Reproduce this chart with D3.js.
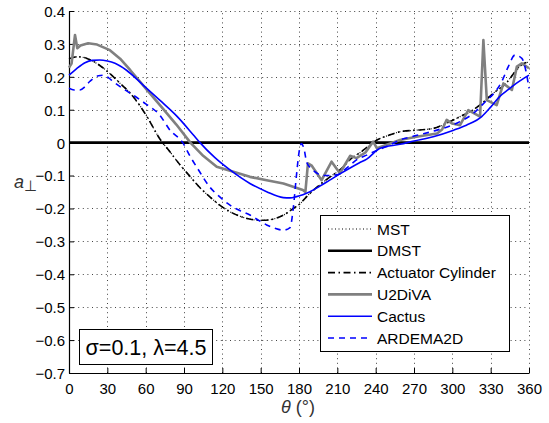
<!DOCTYPE html>
<html>
<head>
<meta charset="utf-8">
<script src="https://cdn.jsdelivr.net/npm/d3@7"></script>
<style>
  html, body { margin: 0; padding: 0; background: #fff; }
  svg { display: block; }
  text { font-family: "Liberation Sans", Arial, sans-serif; }
</style>
</head>
<body>
<svg id="chart" width="549" height="423"></svg>
<script>
// Normal aerodynamic coefficient a⊥ versus azimuth θ for six models
const xTicks = [0, 30, 60, 90, 120, 150, 180, 210, 240, 270, 300, 330, 360];
const yTicks = [-0.7, -0.6, -0.5, -0.4, -0.3, -0.2, -0.1, 0, 0.1, 0.2, 0.3, 0.4];

const mstTheta = [0, 7, 14, 22, 32, 40, 48, 55, 61, 71, 79, 87, 95, 102, 110, 118, 126, 134, 142, 152, 160, 168, 175.5, 181, 186, 196, 204, 212, 222, 228, 234, 241, 250, 259, 272, 285, 295, 306, 316, 324, 332, 342, 349, 354, 360];
const mstVal = [0.255, 0.261, 0.256, 0.24, 0.21, 0.18, 0.15, 0.115, 0.079, 0.012, -0.028, -0.068, -0.104, -0.135, -0.164, -0.19, -0.21, -0.224, -0.233, -0.236, -0.232, -0.22, -0.2, -0.185, -0.164, -0.129, -0.105, -0.083, -0.045, -0.03, -0.012, 0.008, 0.022, 0.033, 0.038, 0.043, 0.058, 0.079, 0.099, 0.122, 0.15, 0.18, 0.215, 0.236, 0.245];

const dmstTheta = [0, 360];
const dmstVal = [0, 0];

const acTheta = [0, 7, 14, 22, 32, 40, 48, 55, 61, 71, 79, 87, 95, 102, 110, 118, 126, 134, 142, 152, 160, 168, 175.5, 181, 186, 196, 204, 212, 222, 228, 234, 241, 250, 259, 272, 285, 295, 306, 316, 324, 332, 342, 349, 354, 360];
const acVal = [0.255, 0.261, 0.256, 0.24, 0.21, 0.18, 0.15, 0.115, 0.079, 0.012, -0.028, -0.068, -0.104, -0.135, -0.164, -0.19, -0.21, -0.224, -0.233, -0.236, -0.232, -0.22, -0.2, -0.185, -0.164, -0.129, -0.105, -0.083, -0.045, -0.03, -0.012, 0.008, 0.022, 0.033, 0.038, 0.043, 0.058, 0.079, 0.099, 0.122, 0.15, 0.18, 0.215, 0.236, 0.245];

const u2dTheta = [0, 2, 4.7, 6.5, 9, 15, 22, 32, 40, 48, 60, 72, 84, 95, 105, 115.6, 128, 141.6, 154.7, 167.8, 183, 185, 187, 190, 197.7, 205.5, 212, 220, 225, 232, 238, 241, 259, 272, 288, 292, 295.6, 300, 306, 312.5, 321.7, 324.3, 327, 334.7, 340, 346.6, 350.5, 354.4, 360];
const u2dVal = [0.228, 0.24, 0.327, 0.287, 0.295, 0.302, 0.298, 0.281, 0.255, 0.22, 0.165, 0.11, 0.055, 0.0, -0.04, -0.073, -0.088, -0.104, -0.114, -0.124, -0.144, -0.15, -0.063, -0.07, -0.114, -0.058, -0.093, -0.04, -0.047, -0.03, 0.003, -0.017, 0.008, 0.018, 0.028, 0.04, 0.069, 0.058, 0.053, 0.099, 0.079, 0.312, 0.129, 0.114, 0.18, 0.16, 0.231, 0.241, 0.226];

const cactusTheta = [0, 6, 12.5, 18, 24, 30, 36, 45, 58, 71, 84, 97, 102.5, 114, 126, 141.6, 154.7, 167.7, 173, 178, 183, 188.6, 196, 204, 212, 220, 227, 233, 243.5, 259, 270, 285, 301, 311, 323, 330, 337, 344, 350, 355, 360];
const cactusVal = [0.205, 0.225, 0.243, 0.25, 0.251, 0.248, 0.241, 0.22, 0.175, 0.129, 0.082, 0.025, 0, -0.045, -0.083, -0.124, -0.149, -0.167, -0.168, -0.164, -0.158, -0.149, -0.133, -0.114, -0.095, -0.077, -0.062, -0.05, -0.017, -0.005, 0.005, 0.018, 0.038, 0.053, 0.079, 0.108, 0.14, 0.162, 0.18, 0.193, 0.205];

const ardTheta = [0, 4, 8.6, 12.5, 16, 19, 23, 27, 31, 34.7, 42, 50, 60, 71, 79, 89, 95, 102, 110, 118, 126, 134, 141.6, 148, 154.7, 161, 167.7, 173, 175.5, 178, 180, 182, 184, 186, 190, 195, 200, 209.5, 218, 226, 233, 240, 248.6, 259, 270, 288, 303.4, 316.5, 327, 333, 338.6, 343.8, 349, 354.4, 358, 360];
const ardVal = [0.165, 0.16, 0.16, 0.17, 0.185, 0.195, 0.203, 0.205, 0.197, 0.185, 0.165, 0.145, 0.118, 0.084, 0.038, 0.0, -0.043, -0.087, -0.134, -0.165, -0.19, -0.207, -0.22, -0.235, -0.25, -0.26, -0.266, -0.258, -0.2, -0.1, -0.03, -0.003, -0.02, -0.06, -0.08, -0.095, -0.1, -0.098, -0.075, -0.05, -0.038, -0.025, -0.012, 0.008, 0.02, 0.038, 0.059, 0.089, 0.129, 0.152, 0.185, 0.231, 0.266, 0.256, 0.21, 0.165];

const seriesNames = ["MST", "DMST", "Actuator Cylinder", "U2DiVA", "Cactus", "ARDEMA2D"];

const series = [
  { name: seriesNames[0], t: mstTheta, v: mstVal, color: "#000", width: 1.2, dash: "1,2.5", curve: d3.curveMonotoneX },
  { name: seriesNames[1], t: dmstTheta, v: dmstVal, color: "#000", width: 2.6, dash: null, curve: d3.curveLinear },
  { name: seriesNames[2], t: acTheta, v: acVal, color: "#000", width: 1.6, dash: "7,3.5,1.5,3.5", curve: d3.curveMonotoneX },
  { name: seriesNames[3], t: u2dTheta, v: u2dVal, color: "#808080", width: 2.6, dash: null, curve: d3.curveLinear },
  { name: seriesNames[4], t: cactusTheta, v: cactusVal, color: "#0000ff", width: 1.6, dash: null, curve: d3.curveMonotoneX },
  { name: seriesNames[5], t: ardTheta, v: ardVal, color: "#0000ff", width: 1.6, dash: "6,5", curve: d3.curveMonotoneX }
];

const svg = d3.select("#chart");
const plotLeft = 69, plotRight = 529, plotTop = 11, plotBottom = 373;

const x = d3.scaleLinear().domain([0, 360]).range([plotLeft, plotRight]);
const y = d3.scaleLinear().domain([-0.7, 0.4]).range([plotBottom, plotTop]);

const fmt = v => {
  const s = (Math.abs(v) < 1e-9 ? 0 : v).toString();
  return s.replace("-", "\u2212");
};

// dotted grid
const grid = svg.append("g").attr("stroke", "#444").attr("stroke-width", 1)
  .attr("stroke-dasharray", "1,3.6");
grid.selectAll("line.v").data(xTicks.filter(d => d > 0)).join("line")
  .attr("x1", d => Math.round(x(d)) + 0.5).attr("x2", d => Math.round(x(d)) + 0.5)
  .attr("y1", plotBottom).attr("y2", plotTop);
grid.selectAll("line.h").data(yTicks.filter(d => d > -0.7)).join("line")
  .attr("y1", d => Math.round(y(d)) + 0.5).attr("y2", d => Math.round(y(d)) + 0.5)
  .attr("x1", plotLeft).attr("x2", plotRight);

// axes with inward ticks
const xAxis = d3.axisBottom(x).tickValues(xTicks).tickSizeInner(-5).tickSizeOuter(0)
  .tickPadding(10).tickFormat(fmt);
const yAxis = d3.axisLeft(y).tickValues(yTicks).tickSizeInner(-5).tickSizeOuter(0)
  .tickPadding(4).tickFormat(fmt);

const gx = svg.append("g").attr("transform", `translate(0,${plotBottom})`).call(xAxis);
const gy = svg.append("g").attr("transform", `translate(${plotLeft},0)`).call(yAxis);
[gx, gy].forEach(g => {
  g.select(".domain").attr("stroke", "#000").attr("stroke-width", 1.2);
  g.selectAll(".tick line").attr("stroke", "#000");
  g.selectAll(".tick text").attr("font-size", 15).attr("fill", "#000")
    .attr("font-family", "'Liberation Sans', Arial, sans-serif");
});
gy.selectAll(".tick text").attr("dy", "0.36em");

// curves
const plot = svg.append("g");
series.forEach(s => {
  const pts = s.t.map((t, i) => [t, s.v[i]]);
  const line = d3.line().x(d => x(d[0])).y(d => y(d[1])).curve(s.curve);
  plot.append("path").datum(pts)
    .attr("d", line)
    .attr("fill", "none")
    .attr("stroke", s.color)
    .attr("stroke-width", s.width)
    .attr("stroke-linejoin", "round")
    .attr("stroke-dasharray", s.dash);
});

// legend
const lg = svg.append("g");
lg.append("rect").attr("x", 320.5).attr("y", 215.5).attr("width", 189).attr("height", 136)
  .attr("fill", "#fff").attr("stroke", "#000").attr("stroke-width", 1);
series.forEach((s, i) => {
  const yy = 229 + i * 21.8;
  lg.append("line").attr("x1", 328).attr("x2", 372).attr("y1", yy).attr("y2", yy)
    .attr("stroke", s.color).attr("stroke-width", s.width)
    .attr("stroke-dasharray", s.dash);
  lg.append("text").attr("x", 377).attr("y", yy).attr("dy", "0.36em")
    .attr("font-size", 15.5).attr("fill", "#000").text(s.name);
});

// parameter box
const pb = svg.append("g");
pb.append("rect").attr("x", 79.5).attr("y", 329.5).attr("width", 133).attr("height", 35)
  .attr("fill", "#fff").attr("stroke", "#000").attr("stroke-width", 1);
pb.append("text").attr("x", 146).attr("y", 347.5).attr("dy", "0.36em")
  .attr("text-anchor", "middle").attr("font-size", 21.5).attr("fill", "#000")
  .text("σ=0.1, λ=4.5");

// axis titles
const yl = svg.append("text").attr("x", 14).attr("y", 188)
  .attr("font-family", "'Liberation Serif', 'DejaVu Serif', serif").attr("fill", "#333");
yl.append("tspan").attr("font-style", "italic").attr("font-size", 18).text("a");
yl.append("tspan").attr("font-size", 15).attr("dy", 3).text("⊥");

const xl = svg.append("text").attr("x", 298).attr("y", 413).attr("text-anchor", "middle")
  .attr("font-family", "'Liberation Serif', 'DejaVu Serif', serif").attr("fill", "#333")
  .attr("font-size", 18);
xl.append("tspan").attr("font-style", "italic").text("θ");
xl.append("tspan").text(" (°)");
</script>
</body>
</html>
